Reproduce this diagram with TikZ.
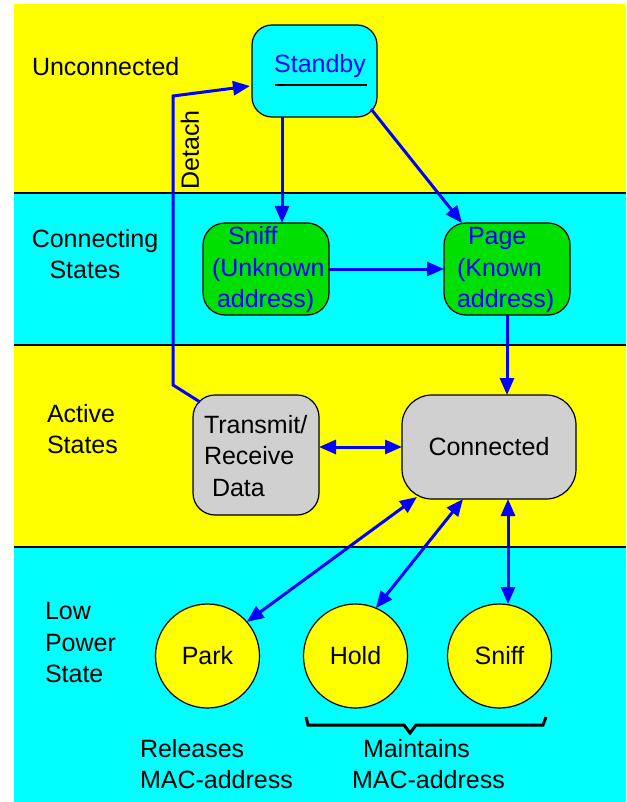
\documentclass[tikz,border=0pt]{standalone}
\usepackage{fontspec}
\setmainfont{Liberation Sans}
\usetikzlibrary{arrows.meta,calc}
\definecolor{bandyellow}{RGB}{255,255,0}
\definecolor{bandcyan}{RGB}{0,255,255}
\definecolor{stategreen}{RGB}{0,224,0}
\definecolor{stategray}{RGB}{208,208,208}
\definecolor{linkblue}{RGB}{0,0,255}
\tikzset{
  tip/.tip={Triangle[length=17pt,width=14pt]},
  bandline/.style={draw=black,line width=1.2pt},
  stbox/.style={rectangle,draw=black,line width=1.2pt,rounded corners=#1},
  stbox/.default=20pt,
  lowstate/.style={circle,draw=black,line width=1.2pt,fill=bandyellow,minimum size=104pt},
  link/.style={draw=linkblue,line width=3pt,-tip},
  twoway/.style={draw=linkblue,line width=3pt,tip-tip},
  bracket/.style={draw=black,line width=3pt,line join=miter},
}
\begin{document}
\begin{tikzpicture}[x=1pt,y=-1pt,
  every node/.style={font=\fontsize{25}{31.5}\selectfont,inner sep=0pt,outer sep=0pt}]
\useasboundingbox (0,0) rectangle (626,802);
\fill[white] (0,0) rectangle (626,802);

% horizontal state bands
\fill[bandyellow] (14,4) rectangle (626,193);
\fill[bandcyan]   (14,193) rectangle (626,345);
\fill[bandyellow] (14,345) rectangle (626,547);
\fill[bandcyan]   (14,547) rectangle (626,802);
\draw[bandline] (14,193) -- (626,193);
\draw[bandline] (14,345) -- (626,345);
\draw[bandline] (14,547) -- (626,547);

% band titles
\node[anchor=west] (tunc) at (32,67) {Unconnected};
\node[align=center] (tcon) at (95,254) {Connecting\\\hspace*{-20pt}States};
\node[align=left,anchor=west] (tact) at (47,429) {Active\\States};
\node[align=left,anchor=west] (tlow) at (45,643) {Low\\Power\\State};

% states
\node[stbox, fill=bandcyan, minimum width=125pt, minimum height=92pt] (stby) at (314.5,71) {};
\node[text=linkblue] (stbyl) at (320,66) {Standby};
\draw[black,line width=2pt] ($(stby.center)+(-40,14)$) -- ($(stby.center)+(52,14)$);

\node[stbox=22pt, fill=stategreen, minimum width=126pt, minimum height=92pt] (snf) at (266,269) {};
\node[text=linkblue,align=left,anchor=west] (snfl) at (212,270) {\hspace*{16pt}Sniff\\(Unknown\\\hspace*{5pt}address)};

\node[stbox=22pt, fill=stategreen, minimum width=126pt, minimum height=92pt] (pag) at (507,269) {};
\node[text=linkblue,align=left,anchor=west] (pagl) at (457,270) {\hspace*{11pt}Page\\(Known\\address)};

\node[stbox=22pt, fill=stategray, minimum width=126pt, minimum height=120pt] (trx) at (256,455) {};
\node[align=left,anchor=west] (trxl) at (204,456) {Transmit/\\Receive\\\hspace*{8pt}Data};

\node[stbox=30pt, fill=stategray, minimum width=174pt, minimum height=104pt] (con) at (489,447) {Connected};

\node[lowstate] (park) at (207.5,656) {Park};
\node[lowstate] (hold) at (355.5,656) {Hold};
\node[lowstate] (lsn)  at (499.5,656) {Sniff};

% transitions
\draw[link] ($(stby.south)+(-32.5,0)$) -- ($(snf.north)+(16,0)$);
\draw[link] ($(stby.south east)+(-6,-8)$) -- ($(pag.north west)+(18,0)$);
\draw[link] (snf.east) -- (pag.west);
\draw[link] (pag.south) -- (pag.south |- con.north);
\draw[twoway] (trx.east |- con.west) -- (con.west);
\draw[link] ($(trx.north west)+(7,7)$) -- (173,385) -- (173,96) -- ($(stby.west)+(-2,15)$);
\node[rotate=90] (detach) at (190,150) {Detach};

\draw[twoway] ($(con.south west)+(15,-2)$) -- (park.41);
\draw[twoway] ($(con.south)+(-26,0)$) -- (hold.67);
\coordinate (cs) at ($(con.south)+(19,0)$);
\draw[twoway] (cs) -- (cs |- lsn.north);

% grouping brace under the kept-address states
\draw[bracket] (306,717) -- (308,725) -- (404,725) -- (410,733) -- (416,725) -- (543,725) -- (546,717);

\node[align=left,anchor=west] (rel) at (140,764) {Releases\\MAC-address};
\node[align=left,anchor=west] (mnt) at (352,764) {\hspace*{11pt}Maintains\\MAC-address};
\end{tikzpicture}
\end{document}
